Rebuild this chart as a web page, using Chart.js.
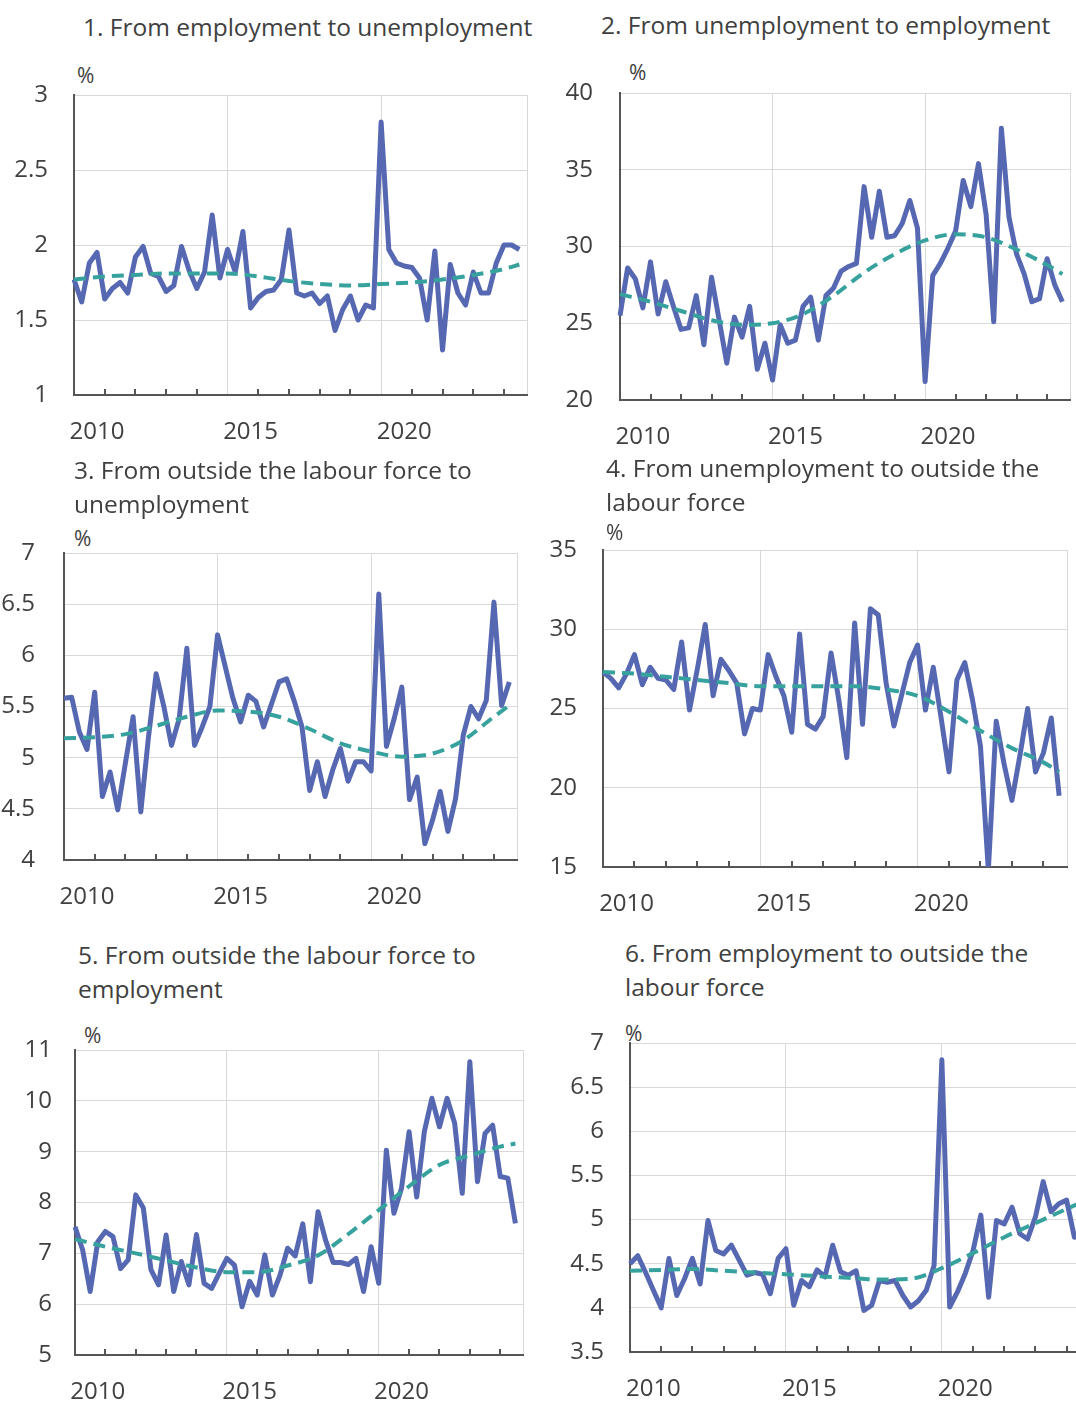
<!DOCTYPE html>
<html><head><meta charset="utf-8">
<script src="https://cdn.jsdelivr.net/npm/chart.js@4"></script>
<style>
html,body{margin:0;padding:0;width:1076px;height:1402px;overflow:hidden;background:#fff;}
body{position:relative;font-family:'Open Sans',sans-serif;color:#404040;}
.t{position:absolute;font-size:24.5px;line-height:34px;white-space:nowrap;}
.u{position:absolute;font-size:21px;line-height:26px;white-space:nowrap;}
canvas{position:absolute;}
</style></head><body>
<script>
// ---------- data ----------
const quarters = ['2009Q2','2009Q3','2009Q4','2010Q1','2010Q2','2010Q3','2010Q4','2011Q1','2011Q2','2011Q3','2011Q4','2012Q1','2012Q2','2012Q3','2012Q4','2013Q1','2013Q2','2013Q3','2013Q4','2014Q1','2014Q2','2014Q3','2014Q4','2015Q1','2015Q2','2015Q3','2015Q4','2016Q1','2016Q2','2016Q3','2016Q4','2017Q1','2017Q2','2017Q3','2017Q4','2018Q1','2018Q2','2018Q3','2018Q4','2019Q1','2019Q2','2019Q3','2019Q4','2020Q1','2020Q2','2020Q3','2020Q4','2021Q1','2021Q2','2021Q3','2021Q4','2022Q1','2022Q2','2022Q3','2022Q4','2023Q1','2023Q2','2023Q3','2023Q4','2024Q1'];
const yearLabels = ['2010','2015','2020'];
const trendQuarters = ['2009Q2','2010Q2','2011Q2','2012Q2','2013Q2','2014Q2','2015Q2','2016Q2','2017Q2','2018Q2','2019Q2','2020Q2','2021Q2','2022Q2','2023Q2','2023Q4'];

const empToUnemp = [1.77,1.62,1.88,1.95,1.64,1.71,1.75,1.68,1.92,1.99,
 1.81,1.79,1.69,1.73,1.99,1.83,1.71,1.82,2.20,1.78,
 1.97,1.82,2.09,1.58,1.65,1.69,1.70,1.77,2.10,1.68,
 1.66,1.68,1.61,1.66,1.43,1.57,1.66,1.50,1.60,1.58,
 2.82,1.97,1.88,1.86,1.85,1.78,1.50,1.96,1.30,1.87,
 1.68,1.60,1.82,1.68,1.68,1.88,2.00,2.00,1.97];
const empToUnempTrend = [1.77,1.79,1.80,1.81,1.81,1.81,1.79,1.76,1.74,1.73,1.74,1.75,1.77,1.80,1.84,1.87];

const unempToEmp = [25.5,28.6,27.9,26.0,29.0,25.6,27.7,26.1,24.6,24.7,
 26.8,23.6,28.0,25.2,22.4,25.4,24.1,26.1,22.0,23.7,
 21.3,24.9,23.7,23.9,26.1,26.7,23.9,26.8,27.3,28.4,
 28.7,28.9,33.9,30.6,33.6,30.6,30.7,31.5,33.0,31.2,
 21.2,28.1,28.9,29.9,31.0,34.3,32.6,35.4,32.1,25.1,
 37.7,31.9,29.5,28.2,26.4,26.6,29.2,27.5,26.4];
const unempToEmpTrend = [26.9,26.4,25.8,25.2,24.9,25.0,25.6,26.8,28.3,29.5,30.4,30.8,30.6,29.8,28.8,28.2];

const outToUnemp = [5.58,5.59,5.25,5.08,5.64,4.62,4.86,4.49,4.95,5.40,
 4.47,5.20,5.82,5.50,5.12,5.38,6.07,5.12,5.30,5.50,
 6.20,5.89,5.58,5.35,5.61,5.55,5.30,5.52,5.74,5.77,
 5.55,5.30,4.68,4.96,4.62,4.88,5.09,4.77,4.96,4.96,
 4.87,6.60,5.11,5.38,5.69,4.59,4.81,4.16,4.39,4.67,
 4.28,4.60,5.22,5.50,5.38,5.56,6.52,5.51,5.74];
const outToUnempTrend = [5.19,5.20,5.23,5.31,5.40,5.46,5.45,5.40,5.28,5.14,5.06,5.01,5.04,5.17,5.40,5.51];

const unempToOut = [27.3,26.9,26.3,27.2,28.4,26.5,27.6,26.9,26.8,26.2,
 29.2,24.9,27.5,30.3,25.8,28.1,27.4,26.6,23.4,25.0,
 24.9,28.4,27.0,25.8,23.5,29.7,24.0,23.7,24.5,28.5,
 25.5,21.9,30.4,24.0,31.3,30.9,26.6,23.9,25.9,27.9,
 29.0,24.9,27.6,24.4,21.0,26.8,27.9,25.5,22.6,14.8,
 24.2,21.5,19.2,22.0,25.0,21.0,22.2,24.4,19.5];
const unempToOutTrend = [27.3,27.2,27.0,26.8,26.6,26.4,26.4,26.4,26.4,26.2,25.8,24.8,23.6,22.5,21.6,21.0];

const outToEmp = [7.52,7.07,6.25,7.23,7.43,7.33,6.70,6.87,8.15,7.89,
 6.68,6.38,7.36,6.25,6.84,6.38,7.37,6.41,6.31,6.61,
 6.90,6.77,5.95,6.45,6.18,6.97,6.18,6.57,7.10,6.95,
 7.58,6.44,7.82,7.26,6.82,6.82,6.78,6.90,6.25,7.13,
 6.41,9.03,7.79,8.28,9.39,8.11,9.39,10.05,9.49,10.05,
 9.56,8.18,10.77,8.41,9.36,9.52,8.51,8.48,7.59];
const outToEmpTrend = [7.28,7.13,7.00,6.86,6.72,6.63,6.63,6.76,6.96,7.38,7.85,8.32,8.74,8.93,9.10,9.16];

const empToOut = [4.50,4.59,4.40,4.20,4.00,4.56,4.14,4.33,4.56,4.27,
 4.99,4.65,4.61,4.71,4.54,4.37,4.40,4.38,4.16,4.56,
 4.67,4.03,4.31,4.24,4.43,4.35,4.71,4.41,4.37,4.42,
 3.97,4.03,4.31,4.29,4.31,4.14,4.01,4.08,4.20,4.48,
 6.81,4.01,4.18,4.39,4.65,5.05,4.12,4.99,4.95,5.14,
 4.84,4.78,5.03,5.43,5.09,5.18,5.22,4.80,4.90];
const empToOutTrend = [4.42,4.43,4.44,4.42,4.40,4.38,4.36,4.34,4.32,4.33,4.45,4.62,4.80,4.96,5.12,5.20];

const yTicks1 = [1,1.5,2,2.5,3];
const yTicks2 = [20,25,30,35,40];
const yTicks3 = [4,4.5,5,5.5,6,6.5,7];
const yTicks4 = [15,20,25,30,35];
const yTicks5 = [5,6,7,8,9,10,11];
const yTicks6 = [3.5,4,4.5,5,5.5,6,6.5,7];

const titles = [
  ['1. From employment to unemployment'],
  ['2. From unemployment to employment'],
  ['3. From outside the labour force to','unemployment'],
  ['4. From unemployment to outside the','labour force'],
  ['5. From outside the labour force to','employment'],
  ['6. From employment to outside the','labour force']
];
const unitLabel = '%';

// ---------- style / layout ----------
const BLUE = '#5768B3', TEAL = '#37A29D', GRID = '#D9D9D9', AXIS = '#555555', TXT = '#404040';
const FONT = "'Open Sans', sans-serif";
const W_Y = 75, PAD_T = 50, H_X = 60, PAD_R = 30;
const GRID_EVERY = 20, TICK_EVERY = 4;

const panels = [
  {L:74,  T:95,   R:527,  B:395,  ypad:26, tx:83,  ty:10,  ux:77,  uy:62,   title:titles[0], values:empToUnemp, trend:empToUnempTrend, yTicks:yTicks1},
  {L:620, T:93,   R:1070, B:400,  ypad:27, tx:601, ty:8,   ux:629, uy:59,   title:titles[1], values:unempToEmp, trend:unempToEmpTrend, yTicks:yTicks2},
  {L:64,  T:553,  R:517,  B:860,  ypad:29, tx:74,  ty:453, ux:74,  uy:525,  title:titles[2], values:outToUnemp, trend:outToUnempTrend, yTicks:yTicks3},
  {L:603, T:550,  R:1067, B:867,  ypad:26, tx:606, ty:451, ux:606, uy:519,  title:titles[3], values:unempToOut, trend:unempToOutTrend, yTicks:yTicks4},
  {L:75,  T:1050, R:523,  B:1355, ypad:23, tx:78,  ty:938, ux:84,  uy:1022, title:titles[4], values:outToEmp,   trend:outToEmpTrend,   yTicks:yTicks5},
  {L:630, T:1043, R:1090, B:1352, ypad:26, tx:625, ty:936, ux:625, uy:1020, title:titles[5], values:empToOut,   trend:empToOutTrend,   yTicks:yTicks6}
];

const tickMarks = {
  id:'tickMarks',
  beforeDatasetsDraw(chart){
    const xs = chart.scales.x, a = chart.chartArea, ctx = chart.ctx;
    ctx.save(); ctx.strokeStyle = AXIS; ctx.lineWidth = 2;
    for (let i = TICK_EVERY; i < quarters.length - 1; i += TICK_EVERY) {
      if (i % GRID_EVERY === 0) continue;
      const px = Math.round(xs.getPixelForValue(i));
      ctx.beginPath(); ctx.moveTo(px, a.bottom); ctx.lineTo(px, a.bottom - 6); ctx.stroke();
    }
    ctx.restore();
  }
};

function makePanel(p){
  const t = document.createElement('div'); t.className = 't';
  t.style.left = p.tx + 'px'; t.style.top = p.ty + 'px';
  p.title.forEach(line => { const d = document.createElement('div'); d.textContent = line; t.appendChild(d); });
  document.body.appendChild(t);
  const u = document.createElement('div'); u.className = 'u';
  u.style.left = p.ux + 'px'; u.style.top = p.uy + 'px'; u.textContent = unitLabel;
  document.body.appendChild(u);

  const c = document.createElement('canvas');
  const w = W_Y + (p.R - p.L) + PAD_R, h = PAD_T + (p.B - p.T) + H_X;
  c.width = w; c.height = h;
  c.style.width = w + 'px'; c.style.height = h + 'px';
  c.style.left = (p.L - W_Y) + 'px'; c.style.top = (p.T - PAD_T) + 'px';
  document.body.appendChild(c);

  new Chart(c, {
    type:'line',
    data:{
      labels: quarters,
      datasets:[
        {data: p.trend.map((v,k) => ({x: trendQuarters[k], y: v})), borderColor: TEAL, borderWidth: 4,
         borderDash:[12,7], pointRadius:0, cubicInterpolationMode:'monotone', fill:false},
        {data: p.values, borderColor: BLUE, borderWidth: 5, pointRadius:0, tension:0, fill:false,
         borderJoinStyle:'round'}
      ]
    },
    options:{
      responsive:false, animation:false, events:[],
      layout:{padding:{top:PAD_T, right:PAD_R, left:0, bottom:0}},
      plugins:{legend:{display:false}, tooltip:{enabled:false}, title:{display:false}},
      scales:{
        x:{
          type:'category', offset:false,
          grid:{drawTicks:false, lineWidth:1,
                color: ctx => (ctx.index > 0 && (ctx.index % GRID_EVERY === 0 || ctx.index === quarters.length - 1)) ? GRID : 'rgba(0,0,0,0)'},
          border:{color:AXIS, width:2},
          ticks:{autoSkip:false, maxRotation:0, minRotation:0, padding:23, color:TXT,
                 font:{family:FONT, size:24},
                 callback:(v,i) => { const q = quarters[i]; const yr = q.slice(0,4);
                   return (q.endsWith('Q1') && yearLabels.includes(yr)) ? yr : ''; }},
          afterFit: s => { s.height = H_X; }
        },
        y:{
          min: p.yTicks[0], max: p.yTicks[p.yTicks.length - 1],
          afterBuildTicks: s => { s.ticks = p.yTicks.map(v => ({value:v})); },
          grid:{drawTicks:false, lineWidth:1, color: ctx => ctx.index === 0 ? 'rgba(0,0,0,0)' : GRID},
          border:{color:AXIS, width:2},
          ticks:{padding:p.ypad, color:TXT, font:{family:FONT, size:24}, callback: v => String(v)},
          afterFit: s => { s.width = W_Y; }
        }
      }
    },
    plugins:[tickMarks]
  });
}
panels.forEach(makePanel);
</script>
</body></html>
